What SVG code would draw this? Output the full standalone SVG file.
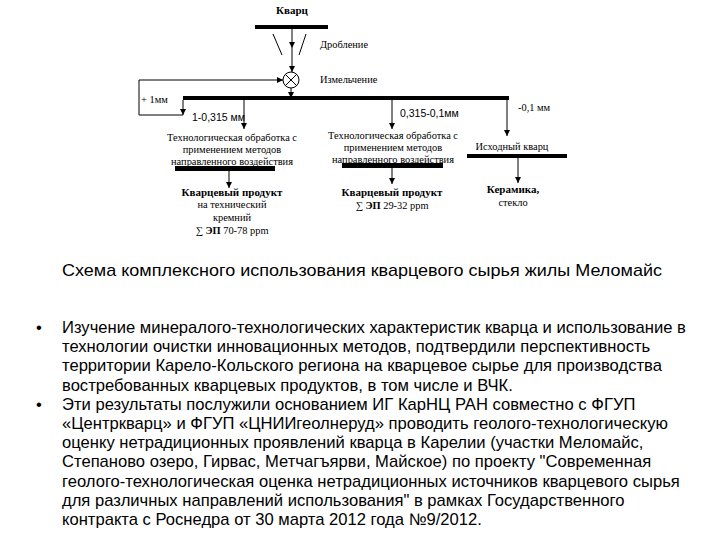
<svg xmlns="http://www.w3.org/2000/svg" width="720" height="540" viewBox="0 0 720 540">
<defs>
<marker id="ah" viewBox="0 0 8 8" refX="8" refY="4" markerWidth="6" markerHeight="6" orient="auto" markerUnits="userSpaceOnUse">
<path d="M0,0 L8,4 L0,8 Z" fill="#000"/>
</marker>
<style>
.s{font-family:"Liberation Serif","DejaVu Serif",serif;font-size:10.4px;fill:#000}
.sb{font-family:"Liberation Serif","DejaVu Serif",serif;font-size:11px;font-weight:bold;fill:#000}
.a{font-family:"Liberation Sans",Arial,sans-serif;font-size:10.5px;fill:#000}
.t{font-family:"Liberation Sans",Arial,sans-serif;font-size:16.6px;fill:#000}
.c{font-family:"Liberation Sans",Arial,sans-serif;font-size:17px;fill:#000}
.ln{stroke:#000;stroke-width:1;fill:none}
.ar{stroke:#000;stroke-width:1;fill:none;marker-end:url(#ah)}
.bar{fill:#000}
</style>
</defs>
<rect width="720" height="540" fill="#fff"/>

<g id="connectors">
<line class="ar" x1="292" y1="29" x2="292" y2="48"/>
<line class="ar" x1="292" y1="48" x2="292" y2="72"/>
<line class="ln" x1="273" y1="34" x2="282" y2="55"/>
<line class="ln" x1="306" y1="34" x2="299" y2="55"/>
<path class="ln" d="M183,115 H139 V80 H200"/>
<line class="ar" x1="200" y1="80" x2="283" y2="80"/>
<line class="ar" x1="291" y1="88" x2="291" y2="98"/>
<line class="ar" x1="183" y1="100" x2="183" y2="115"/>
<line class="ar" x1="244" y1="100" x2="244" y2="129"/>
<line class="ar" x1="392" y1="100" x2="392" y2="129"/>
<line class="ar" x1="507" y1="100" x2="507" y2="136"/>
<line class="ar" x1="229" y1="171" x2="229" y2="188"/>
<line class="ar" x1="392" y1="168" x2="392" y2="184"/>
<line class="ar" x1="518" y1="158" x2="518" y2="183"/>
</g>

<g id="quartz">
<rect class="bar" x="255" y="25" width="73" height="4"/>
<text class="sb" x="292" y="14" text-anchor="middle">Кварц</text>
</g>
<g id="crushing">
<text class="s" x="320" y="48">Дробление</text>
</g>
<g id="grinding">
<circle cx="291" cy="80" r="8" fill="#fff" stroke="#000" stroke-width="1"/>
<path class="ln" d="M285.3,74.3 L296.7,85.7 M296.7,74.3 L285.3,85.7"/>
<text class="s" x="320" y="83">Измельчение</text>
</g>
<g id="main-split">
<rect class="bar" x="183" y="96" width="326" height="4"/>
<text class="s" x="141" y="103">+ 1мм</text>
<text class="a" x="192" y="121">1-0,315 мм</text>
<text class="a" x="400" y="117">0,315-0,1мм</text>
<text class="s" x="518" y="111">-0,1 мм</text>
</g>
<g id="process-left">
<text class="s" x="232" y="141" text-anchor="middle">Технологическая обработка с</text>
<text class="s" x="232" y="153" text-anchor="middle">применением методов</text>
<text class="s" x="232" y="165" text-anchor="middle">направленного воздействия</text>
<rect class="bar" x="175" y="166" width="100" height="5"/>
</g>
<g id="process-mid">
<text class="s" x="393" y="139" text-anchor="middle">Технологическая обработка с</text>
<text class="s" x="393" y="151" text-anchor="middle">применением методов</text>
<text class="s" x="393" y="163" text-anchor="middle">направленного воздействия</text>
<rect class="bar" x="342" y="163" width="101" height="5"/>
</g>
<g id="source-quartz">
<text class="s" x="512" y="150" text-anchor="middle">Исходный кварц</text>
<rect class="bar" x="467" y="154" width="100" height="4"/>
</g>
<g id="product-left">
<text class="sb" x="232" y="196" text-anchor="middle">Кварцевый продукт</text>
<text class="s" x="232" y="208" text-anchor="middle">на технический</text>
<text class="s" x="232" y="221" text-anchor="middle">кремний</text>
<text class="s" x="232" y="234" text-anchor="middle">∑ <tspan font-weight="bold">ЭП</tspan> 70-78 ppm</text>
</g>
<g id="product-mid">
<text class="sb" x="392" y="196" text-anchor="middle">Кварцевый продукт</text>
<text class="s" x="392" y="209" text-anchor="middle">∑ <tspan font-weight="bold">ЭП</tspan> 29-32 ppm</text>
</g>
<g id="ceramics">
<text class="sb" x="513" y="193" text-anchor="middle">Керамика,</text>
<text class="s" x="513" y="206" text-anchor="middle">стекло</text>
</g>

<text class="c" x="362" y="276" text-anchor="middle" textLength="600" lengthAdjust="spacingAndGlyphs">Схема комплексного использования кварцевого сырья жилы Меломайс</text>

<text class="t" x="36" y="333">•</text>
<text class="t" x="36" y="410">•</text>
<text class="t" x="62" y="333">Изучение минералого-технологических характеристик кварца и использование в</text>
<text class="t" x="62" y="352">технологии очистки инновационных методов, подтвердили перспективность</text>
<text class="t" x="62" y="371">территории Карело-Кольского региона на кварцевое сырье для производства</text>
<text class="t" x="62" y="391">востребованных кварцевых продуктов, в том числе и ВЧК.</text>
<text class="t" x="62" y="410">Эти результаты послужили основанием ИГ КарНЦ РАН совместно с ФГУП</text>
<text class="t" x="62" y="429">«Центркварц» и ФГУП «ЦНИИгеолнеруд» проводить геолого-технологическую</text>
<text class="t" x="62" y="448">оценку нетрадиционных проявлений кварца в Карелии (участки Меломайс,</text>
<text class="t" x="62" y="467">Степаново озеро, Гирвас, Метчагъярви, Майское) по проекту "Современная</text>
<text class="t" x="62" y="487">геолого-технологическая оценка нетрадиционных источников кварцевого сырья</text>
<text class="t" x="62" y="506">для различных направлений использования" в рамках Государственного</text>
<text class="t" x="62" y="525">контракта с Роснедра от 30 марта 2012 года №9/2012.</text>
</svg>
